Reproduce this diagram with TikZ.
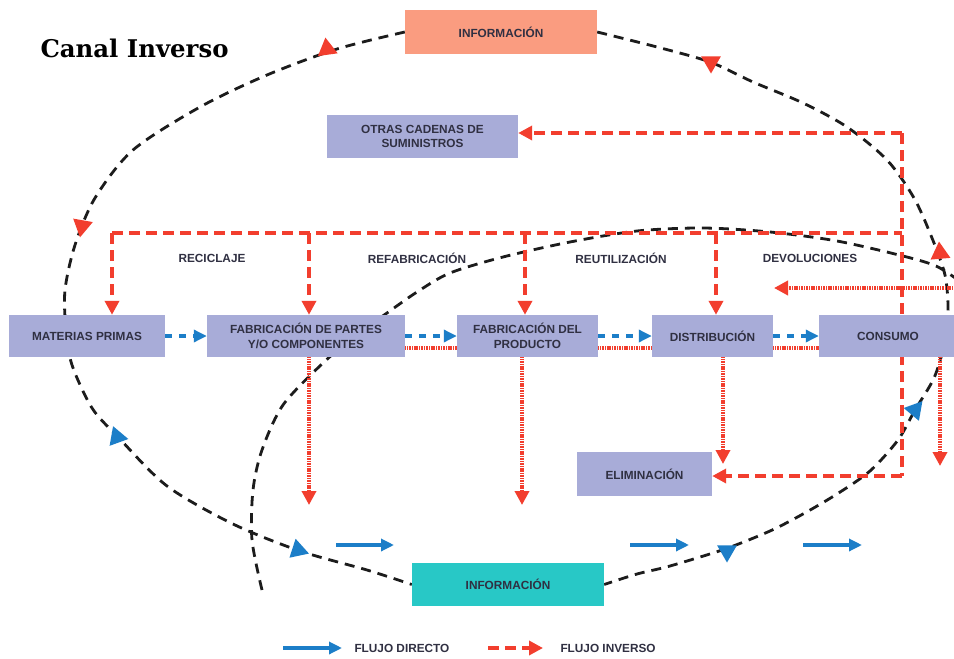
\documentclass[tikz,border=0pt]{standalone}
\usepackage{fontspec}
\usepackage{graphicx}
\setmainfont{Liberation Sans}
\newfontfamily\titlefont{DejaVu Serif}
\usetikzlibrary{arrows.meta,shapes.geometric}

\definecolor{boxlav}{RGB}{168,172,216}
\definecolor{boxsalmon}{RGB}{250,156,128}
\definecolor{boxteal}{RGB}{40,200,198}
\definecolor{revred}{RGB}{242,62,46}
\definecolor{dirblue}{RGB}{28,126,200}
\definecolor{labeltext}{RGB}{48,48,66}
\definecolor{arcblack}{RGB}{28,28,28}

\pgfdeclarelayer{back}
\pgfdeclarelayer{lines}
\pgfsetlayers{back,lines,main}

\begin{document}
\begin{tikzpicture}[x=1pt,y=-1pt,
  labelfont/.style={font=\bfseries\fontsize{11.8}{14.5}\selectfont, text=labeltext},
  box/.style={labelfont, fill=boxlav, draw=none, inner sep=0pt, align=center},
  revdash/.style={draw=revred, line width=3.8pt, dash pattern=on 11pt off 6pt},
  revdot/.style={draw=revred, line width=4.4pt, dash pattern=on 1.1pt off 0.6pt},
  dirdash/.style={draw=dirblue, line width=3.2pt, dash pattern=on 7pt off 7pt},
  dirline/.style={draw=dirblue, line width=3.2pt},
  infoarc/.style={draw=arcblack, line width=2.8pt, dash pattern=on 10pt off 7pt},
  redtip/.style={-{Triangle[length=14pt,width=14pt]}},
  bluetip/.style={-{Triangle[length=13pt,width=12pt]}},
  tri/.style={regular polygon, regular polygon sides=3, minimum size=23pt, inner sep=0pt, draw=none}
]
% page frame
\begin{pgfonlayer}{back}
  \fill[white] (0,0) rectangle (954,659);
\end{pgfonlayer}
\path[use as bounding box] (0,0) rectangle (954,659);

% title
\node[anchor=west] (title) at (37,48) {\titlefont\bfseries\resizebox{188pt}{!}{Canal Inverso}};

% boxes
\node[box, fill=boxsalmon, minimum width=192pt, minimum height=44pt] (infotop) at (501,32) {INFORMACIÓN};
\node[box, minimum width=191pt, minimum height=43pt] (otras) at (422.5,136.5) {OTRAS CADENAS DE\\SUMINISTROS};
\node[box, minimum width=156pt, minimum height=42pt] (materias) at (87,336) {MATERIAS PRIMAS};
\node[box, minimum width=198pt, minimum height=42pt] (fabpartes) at (306,336) {FABRICACIÓN DE PARTES\\Y/O COMPONENTES};
\node[box, minimum width=141pt, minimum height=42pt] (fabprod) at (527.5,336) {FABRICACIÓN DEL\\PRODUCTO};
\node[box, minimum width=121pt, minimum height=42pt] (distrib) at (712.5,336) {DISTRIBUCIÓN};
\node[box, minimum width=138pt, minimum height=42pt] (consumo) at (888,336) {CONSUMO};
\node[box, minimum width=135pt, minimum height=44pt] (elim) at (644.5,474) {ELIMINACIÓN};
\node[box, fill=boxteal, minimum width=192pt, minimum height=43pt] (infobot) at (508,584.5) {INFORMACIÓN};

% flow labels
\node[labelfont] (lrec) at (212,258) {RECICLAJE};
\node[labelfont] (lref) at (417,258) {REFABRICACIÓN};
\node[labelfont] (lreu) at (621,258) {REUTILIZACIÓN};
\node[labelfont] (ldev) at (810,258) {DEVOLUCIONES};

% junction points of the reverse-flow network
\coordinate (tr1) at (902,133);
\coordinate (tr2) at (902,233);
\coordinate (tr3) at (902,476);
\coordinate (tl) at (112,233);
\coordinate (d2) at (309,233);
\coordinate (d3) at (525,233);
\coordinate (d4) at (716,233);
\coordinate (e2) at (309,505);
\coordinate (e3) at (522,505);
\coordinate (e4) at (723,464);
\coordinate (e5) at (940,466);
\coordinate (dvs) at (958,288);
\coordinate (dve) at (774,288);

% direct-flow arrows below the chain
\coordinate (b1s) at (336,545); \coordinate (b1e) at (394,545);
\coordinate (b2s) at (630,545); \coordinate (b2e) at (689,545);
\coordinate (b3s) at (803,545); \coordinate (b3e) at (862,545);

% legend
\coordinate (lg1s) at (283,648); \coordinate (lg1e) at (342,648);
\coordinate (lg2s) at (488,648); \coordinate (lg2e) at (543,648);
\node[labelfont, anchor=west] (leg1) at (351,648) {FLUJO DIRECTO};
\node[labelfont, anchor=west] (leg2) at (557,648) {FLUJO INVERSO};

\begin{pgfonlayer}{lines}
  % information loops
  \draw[infoarc] plot[smooth] coordinates {(infotop.west) (337,49) (267,75) (200,107) (133,150) (95,198) (75,245) (65,290) (66,330) (72,365) (92,408) (118,437) (167,486) (233,524) (300,551) (367,570) (infobot.west)};
  \draw[infoarc] plot[smooth] coordinates {(infotop.east) (657,47) (710,62) (753,82) (803,103) (847,127) (887,160) (914,198) (932,238) (945,275) (948,310) (944,345) (934,378) (915,410) (898,440) (870,471) (837,494) (803,514) (770,531) (725,549) (670,566) (637,574) (infobot.east)};
  \draw[infoarc] plot[smooth] coordinates {(262,590) (252,540) (253,490) (262,450) (283,405) (323,363) (355,336) (387,313) (417,292) (450,273) (503,257) (570,242) (637,231) (703,228) (770,232) (837,241) (903,256) (936,266) (958,280)};

  % reverse flow, dashed
  \draw[revdash] (tr1) -- (tr3);
  \draw[revdash] (tl) -- (tr2);
  \draw[revdash, redtip] (tr1) -- (otras.east |- tr1);
  \draw[revdash, redtip] (tr3) -- (elim.east |- tr3);
  \draw[revdash, redtip] (tl) -- (tl |- materias.north);
  \draw[revdash, redtip] (d2) -- (d2 |- fabpartes.north);
  \draw[revdash, redtip] (d3) -- (d3 |- fabprod.north);
  \draw[revdash, redtip] (d4) -- (d4 |- distrib.north);

  % reverse flow, dotted
  \draw[revdot] ([yshift=-12pt]fabpartes.east) -- ([yshift=-12pt]fabprod.west);
  \draw[revdot] ([yshift=-12pt]fabprod.east) -- ([yshift=-12pt]distrib.west);
  \draw[revdot] ([yshift=-12pt]distrib.east) -- ([yshift=-12pt]consumo.west);
  \draw[revdot, redtip] (dvs) -- (dve);
  \draw[revdot, redtip] (e2 |- fabpartes.south) -- (e2);
  \draw[revdot, redtip] (e3 |- fabprod.south) -- (e3);
  \draw[revdot, redtip] (e4 |- distrib.south) -- (e4);
  \draw[revdot, redtip] (e5 |- consumo.south) -- (e5);

  % direct flow
  \draw[dirdash, bluetip] (materias.east) -- (fabpartes.west);
  \draw[dirdash, bluetip] (fabpartes.east) -- (fabprod.west);
  \draw[dirdash, bluetip] (fabprod.east) -- (distrib.west);
  \draw[dirdash, bluetip] (distrib.east) -- (consumo.west);
  \draw[dirline, bluetip] (b1s) -- (b1e);
  \draw[dirline, bluetip] (b2s) -- (b2e);
  \draw[dirline, bluetip] (b3s) -- (b3e);

  % legend arrows
  \draw[dirline, bluetip] (lg1s) -- (lg1e);
  \draw[revdash, redtip] (lg2s) -- (lg2e);
\end{pgfonlayer}

% direction marks on the information loops
\node[tri, fill=revred, rotate=8] (m1) at (327,49) {};
\node[tri, fill=revred, rotate=180] (m2) at (711,62) {};
\node[tri, fill=revred, rotate=170] (m3) at (82,226) {};
\node[tri, fill=revred, rotate=5] (m4) at (940,253) {};
\node[tri, fill=dirblue, rotate=20] (m5) at (117,437) {};
\node[tri, fill=dirblue, rotate=12] (m6) at (298,550) {};
\node[tri, fill=dirblue, rotate=180] (m7) at (727,551) {};
\node[tri, fill=dirblue, rotate=80] (m8) at (915,410) {};
\end{tikzpicture}
\end{document}
